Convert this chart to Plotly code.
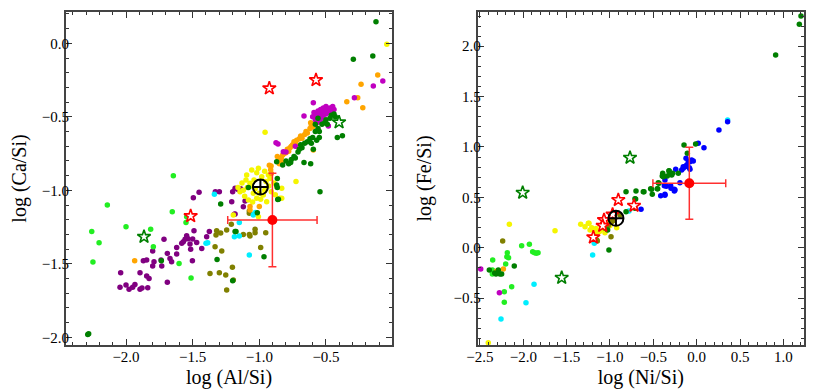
import plotly.graph_objects as go

# --- left panel: log(Al/Si) vs log(Ca/Si), (x, y) pairs per group ---
ca_purple = [(-1.452, -1.013), (-1.30, -1.01), (-1.495, -1.05), (-1.20, -1.01), (-1.14, -0.99),
             (-1.187, -1.163), (-1.107, -1.073), (-1.182, -0.986), (-1.207, -1.077), (-1.12, -1.111),
             (-1.182, -1.161), (-1.16, -0.995), (-1.33, -1.01),
             (-2.04, -1.56), (-2.045, -1.66), (-2.0, -1.644), (-1.977, -1.673), (-1.933, -1.64),
             (-1.895, -1.673), (-1.88, -1.665), (-1.837, -1.662), (-1.895, -1.56), (-1.845, -1.583),
             (-1.827, -1.6), (-1.87, -1.479), (-1.845, -1.474), (-1.80, -1.413), (-1.79, -1.486),
             (-1.80, -1.515), (-1.732, -1.515), (-1.737, -1.474), (-1.69, -1.429), (-1.67, -1.463),
             (-1.658, -1.486), (-1.62, -1.433), (-1.62, -1.388), (-1.582, -1.36), (-1.57, -1.35),
             (-1.557, -1.333), (-1.535, -1.33), (-1.545, -1.309), (-1.52, -1.365), (-1.515, -1.40),
             (-1.50, -1.331), (-1.49, -1.275), (-1.47, -1.354), (-1.432, -1.395), (-1.395, -1.316),
             (-1.375, -1.28), (-1.502, -1.479), (-1.715, -1.333), (-1.69, -1.626), (-1.95, -1.66)]
ca_magenta = [(-0.60, -0.50), (-0.59, -0.47), (-0.58, -0.52), (-0.57, -0.49), (-0.56, -0.46),
              (-0.56, -0.51), (-0.55, -0.48), (-0.54, -0.45), (-0.54, -0.50), (-0.53, -0.47),
              (-0.52, -0.44), (-0.52, -0.49), (-0.51, -0.46), (-0.50, -0.43), (-0.50, -0.48),
              (-0.49, -0.45), (-0.48, -0.47), (-0.47, -0.44), (-0.46, -0.46), (-0.45, -0.43),
              (-0.44, -0.45), (-0.55, -0.53), (-0.57, -0.54), (-0.53, -0.51), (-0.595, -0.404),
              (-0.665, -0.494), (-0.875, -0.676), (-0.86, -0.685), (-0.80, -0.74), (-0.074, -0.256),
              (-0.145, -0.29), (-0.287, -0.37), (-0.482, -0.563), (-0.82, -0.737), (-0.73, -0.70)]
ca_orange = [(-0.112, -0.216), (-0.237, -0.279), (-0.262, -0.37), (-0.224, -0.438), (-0.344, -0.397),
             (-0.925, -0.83), (-0.915, -0.86), (-0.91, -0.885), (-0.912, -0.835), (-1.07, -1.134),
             (-1.07, -1.11), (-1.935, -1.479), (-0.865, -0.77), (-0.855, -0.79), (-0.845, -0.80),
             (-0.835, -0.78), (-0.825, -0.76), (-0.815, -0.75), (-0.80, -0.745), (-0.79, -0.72),
             (-0.78, -0.735), (-0.77, -0.71), (-0.76, -0.70), (-0.75, -0.69), (-0.74, -0.67),
             (-0.73, -0.68), (-0.72, -0.66), (-0.70, -0.65), (-0.69, -0.63), (-0.68, -0.645),
             (-0.66, -0.62), (-0.65, -0.60), (-0.64, -0.61), (-0.62, -0.58), (-0.61, -0.56),
             (-0.60, -0.57), (-0.58, -0.55), (-0.595, -0.726), (-0.85, -0.82), (-0.83, -0.81),
             (-0.72, -0.70), (-1.0, -1.11), (-0.615, -0.54)]
ca_yellow = [(-0.044, -0.007), (-0.957, -0.605), (-0.725, -0.94), (-0.832, -1.054), (-1.057, -0.862),
             (-1.007, -0.85), (-1.095, -0.896), (-1.07, -0.952), (-1.145, -1.01), (-1.12, -1.00),
             (-1.045, -1.02), (-1.02, -1.054), (-0.97, -1.032), (-0.945, -1.077), (-1.082, -1.066),
             (-0.982, -0.907), (-0.932, -0.896), (-0.87, -0.975), (-0.832, -0.986), (-0.845, -1.054),
             (-1.195, -1.168), (-1.007, -1.18), (-0.92, -0.92), (-1.04, -0.93), (-0.95, -0.94),
             (-1.09, -0.98), (-1.13, -0.95), (-1.03, -0.99), (-0.99, -1.06), (-1.11, -1.04),
             (-1.05, -1.08), (-0.91, -1.01), (-0.89, -0.95), (-1.10, -0.93), (-0.96, -1.00),
             (-1.06, -0.97), (-1.00, -1.02), (-0.93, -0.97), (-1.16, -0.98), (-0.88, -1.03),
             (-1.02, -0.88), (-0.96, -0.87)]
ca_green = [(-0.125, 0.147), (-0.295, -0.109), (-0.149, -0.086), (-0.415, -0.64), (-0.377, -0.628),
            (-0.665, -0.81), (-0.615, -0.82), (-0.545, -1.01), (-0.595, -0.72), (-0.865, -0.919),
            (-0.87, -0.964), (-0.865, -0.98), (-0.857, -1.061), (-1.015, -1.152), (-1.175, -1.28),
            (-1.29, -1.093), (-0.965, -1.452), (-1.082, -0.98), (-0.862, -1.062), (-1.735, -1.479),
            (-2.287, -1.98), (-2.28, -1.975), (-1.317, -1.47), (-1.20, -1.615), (-1.182, -1.28),
            (-0.87, -0.805), (-0.825, -0.828), (-0.765, -0.81), (-0.80, -0.80), (-0.78, -0.82),
            (-0.76, -0.79), (-0.74, -0.77), (-0.73, -0.78), (-0.71, -0.74), (-0.70, -0.72),
            (-0.68, -0.71), (-0.66, -0.68), (-0.64, -0.67), (-0.62, -0.65), (-0.60, -0.64),
            (-0.61, -0.68), (-0.58, -0.60), (-0.56, -0.58), (-0.55, -0.60), (-0.53, -0.55),
            (-0.51, -0.54), (-0.50, -0.52), (-0.49, -0.55), (-0.47, -0.51), (-0.46, -0.49),
            (-0.44, -0.48), (-0.43, -0.50), (-0.58, -0.55), (-0.55, -0.64), (-0.57, -0.66),
            (-0.69, -0.69), (-0.56, -0.51)]
ca_lime = [(-1.645, -0.90), (-2.14, -1.10), (-2.257, -1.28), (-2.202, -1.356), (-2.248, -1.488),
           (-2.0, -1.247), (-1.815, -1.265), (-1.795, -1.383), (-1.653, -1.145), (-1.545, -1.18),
           (-1.55, -1.218), (-1.602, -1.497), (-1.512, -1.597)]
ca_cyan = [(-1.337, -1.027), (-1.387, -1.356), (-1.40, -1.36), (-1.15, -1.218), (-1.187, -1.316),
           (-1.15, -1.311), (-1.04, -1.161), (-1.075, -1.44), (-1.045, -1.168), (-1.03, -1.15)]
ca_olive = [(-1.32, -1.275), (-1.245, -1.27), (-1.325, -1.304), (-1.29, -1.29), (-1.332, -1.383),
            (-1.282, -1.413), (-1.37, -1.565), (-1.30, -1.56), (-1.252, -1.576), (-1.202, -1.524),
            (-1.195, -1.61), (-1.245, -1.678), (-1.12, -1.30), (-1.075, -1.30), (-1.07, -1.31),
            (-1.032, -1.288), (-0.952, -1.288), (-0.99, -1.388), (-1.032, -1.265), (-1.075, -1.156),
            (-1.075, -1.14), (-1.21, -1.23)]
ca_red_stars = [(-0.925, -0.306), (-0.575, -0.25), (-1.515, -1.175)]
ca_green_stars = [(-0.402, -0.537), (-1.865, -1.316)]
ca_sun = (-0.992, -0.978)
ca_target = (-0.902, -1.202)
ca_target_err = (0.335, 0.318)

# --- right panel: log(Ni/Si) vs log(Fe/Si) ---
fe_green = [(1.203, 2.301), (1.184, 2.218), (0.911, 1.914), (-0.012, 1.03), (-0.146, 1.02),
            (-0.108, 0.937), (-0.319, 0.765), (-0.277, 0.738), (-0.392, 0.738), (-0.385, 0.705),
            (-0.397, 0.712), (-0.339, 0.712), (-0.319, 0.762), (-0.308, 0.738), (-0.288, 0.722),
            (-0.212, 0.738), (-0.443, 0.646), (-0.454, 0.586), (-0.531, 0.586), (-0.512, 0.53),
            (-0.616, 0.556), (-0.815, 0.556), (-0.712, 0.487), (-1.012, -0.023), (-1.027, 0.176),
            (-0.815, 0.358), (-0.712, 0.391), (-0.70, 0.563), (-0.704, 0.484), (-0.608, 0.556),
            (-0.519, 0.58), (-0.45, 0.586), (-0.435, 0.64), (-2.104, -0.182), (-2.392, -0.221),
            (-2.315, -0.261), (-2.25, -0.26), (-2.27, -0.26), (-2.288, -0.221), (-2.33, -0.25)]
fe_blue = [(0.357, 1.25), (0.257, 1.169), (0.084, 0.993), (0.018, 1.037), (-0.123, 0.888),
           (-0.077, 0.854), (-0.039, 0.861), (-0.058, 0.871), (-0.097, 0.854), (-0.155, 0.804),
           (-0.135, 0.804), (-0.115, 0.821), (-0.173, 0.772), (-0.085, 0.794), (-0.242, 0.778),
           (-0.155, 0.788), (-0.077, 0.778), (-0.366, 0.672), (-0.373, 0.616), (-0.35, 0.61),
           (-0.30, 0.616), (-0.296, 0.59), (-0.258, 0.58), (-0.25, 0.573), (-0.366, 0.53),
           (-0.415, 0.516), (-0.193, 0.646), (-0.642, 0.381), (-0.366, 0.52), (-0.258, 0.563)]
fe_cyan = [(0.357, 1.268), (-0.781, 0.364), (-1.181, 0.044), (-1.20, -0.072), (-1.876, -0.364),
           (-1.969, -0.546), (-2.257, -0.708)]
fe_yellow = [(-2.161, 0.232), (-1.634, 0.169), (-1.338, 0.232), (-1.288, 0.209), (-1.242, 0.242),
             (-1.211, 0.199), (-1.18, 0.17), (-1.16, 0.19), (-1.153, 0.149), (-1.12, 0.16),
             (-1.10, 0.18), (-1.058, 0.149), (-1.027, 0.199), (-0.923, 0.199), (-2.404, -0.943),
             (-1.25, 0.242), (-1.23, 0.176), (-1.0, 0.22), (-1.08, 0.24), (-1.04, 0.25)]
fe_olive = [(-2.238, 0.066), (-0.988, 0.109), (-1.146, 0.066), (-0.885, 0.325), (-0.98, 0.258),
            (-0.96, 0.27), (-1.058, 0.192), (-1.153, 0.076), (-1.02, 0.22)]
fe_lime = [(-2.353, -0.122), (-2.357, -0.221), (-2.357, -0.261), (-2.184, -0.05), (-2.19, -0.089),
           (-2.203, -0.162), (-2.17, -0.10), (-2.019, 0.02), (-1.93, 0.034), (-1.892, -0.04),
           (-1.87, -0.05), (-1.85, -0.055), (-1.83, -0.05), (-2.134, -0.387), (-2.219, -0.437),
           (-2.219, -0.542)]
fe_magenta = [(-2.491, -0.212), (-2.276, -0.447)]
fe_orange = [(-2.23, -0.212), (-2.31, -0.235)]
fe_red_stars = [(-0.904, 0.474), (-0.723, 0.417), (-1.069, 0.275), (-1.084, 0.218),
                (-1.192, 0.103), (-0.97, 0.33)]
fe_green_stars = [(-0.769, 0.894), (-2.007, 0.546), (-1.557, -0.298)]
fe_sun = (-0.931, 0.292)
fe_target = (-0.085, 0.64)
fe_target_err = (0.42, 0.357)

FONT = "Liberation Serif, Times New Roman, DejaVu Serif, serif"
fig = go.Figure()


def dots(pts, color, xa, ya):
    fig.add_trace(go.Scatter(x=[p[0] for p in pts], y=[p[1] for p in pts], mode="markers",
                             xaxis=xa, yaxis=ya, showlegend=False,
                             marker=dict(color=color, size=5.5, line=dict(width=0))))


def stars(pts, color, xa, ya):
    fig.add_trace(go.Scatter(x=[p[0] for p in pts], y=[p[1] for p in pts], mode="markers",
                             xaxis=xa, yaxis=ya, showlegend=False,
                             marker=dict(symbol="star", color="white", size=10,
                                         line=dict(color=color, width=1.6))))


def panel(groups, rstars, gstars, sun, target, err, xa, ya):
    for pts, col in groups:
        dots(pts, col, xa, ya)
    stars(gstars, "#007f00", xa, ya)
    stars(rstars, "#ff0000", xa, ya)
    fig.add_trace(go.Scatter(x=[target[0]], y=[target[1]], mode="markers", xaxis=xa, yaxis=ya,
                             showlegend=False, marker=dict(color="#ff0000", size=10),
                             error_x=dict(type="constant", value=err[0], color="#ff3030",
                                          thickness=1.5, width=4),
                             error_y=dict(type="constant", value=err[1], color="#ff3030",
                                          thickness=1.5, width=4)))
    fig.add_trace(go.Scatter(x=[sun[0]], y=[sun[1]], mode="markers", xaxis=xa, yaxis=ya,
                             showlegend=False,
                             marker=dict(symbol="circle-cross-open", color="black", size=15,
                                         line=dict(width=2))))


PURPLE, MAGENTA, ORANGE, YELLOW = "#800080", "#c000c0", "#ffa500", "#f5f500"
GREEN, LIME, CYAN, OLIVE, BLUE = "#007f00", "#22ee22", "#00eeff", "#808000", "#0000ff"

panel([(ca_purple, PURPLE), (ca_lime, LIME), (ca_olive, OLIVE), (ca_cyan, CYAN),
       (ca_yellow, YELLOW), (ca_orange, ORANGE), (ca_magenta, MAGENTA), (ca_green, GREEN)],
      ca_red_stars, ca_green_stars, ca_sun, ca_target, ca_target_err, "x", "y")
panel([(fe_lime, LIME), (fe_magenta, MAGENTA), (fe_orange, ORANGE), (fe_yellow, YELLOW),
       (fe_olive, OLIVE), (fe_cyan, CYAN), (fe_blue, BLUE), (fe_green, GREEN)],
      fe_red_stars, fe_green_stars, fe_sun, fe_target, fe_target_err, "x2", "y2")

axis_style = dict(showline=True, mirror="ticks", linecolor="#444", linewidth=2,
                  ticks="inside", ticklen=6, tickwidth=1.2, tickcolor="#333",
                  showgrid=False, zeroline=False, dtick=0.5, tick0=0, tickformat=".1f",
                  automargin=False,
                  tickfont=dict(family=FONT, size=15, color="black"),
                  minor=dict(dtick=0.1, ticks="inside", ticklen=3, tickcolor="#333", tickwidth=1),
                  title_font=dict(family=FONT, size=20, color="black"))

# the page body adds an 8px offset, so domains are shifted up/left by 8px
fig.update_layout(
    width=817, height=391, margin=dict(l=0, r=0, t=0, b=0),
    plot_bgcolor="white", paper_bgcolor="white",
    font=dict(family=FONT),
    xaxis=dict(axis_style, domain=[0.0710, 0.4700], range=[-2.45, -0.005], anchor="y",
               ticklabelstandoff=-3, title=dict(text="log (Al/Si)", standoff=6)),
    yaxis=dict(axis_style, domain=[0.1381, 0.9898], range=[-2.052, 0.213], anchor="x",
               ticklabelstandoff=-8, title=dict(text="log (Ca/Si)", standoff=16)),
    xaxis2=dict(axis_style, domain=[0.5749, 0.9743], range=[-2.526, 1.238], anchor="y2",
                ticklabelstandoff=-3, title=dict(text="log (Ni/Si)", standoff=6)),
    yaxis2=dict(axis_style, domain=[0.1381, 0.9898], range=[-0.966, 2.34], anchor="x2",
                ticklabelstandoff=-8, title=dict(text="log (Fe/Si)", standoff=16)),
)

fig.write_html("out.html")
